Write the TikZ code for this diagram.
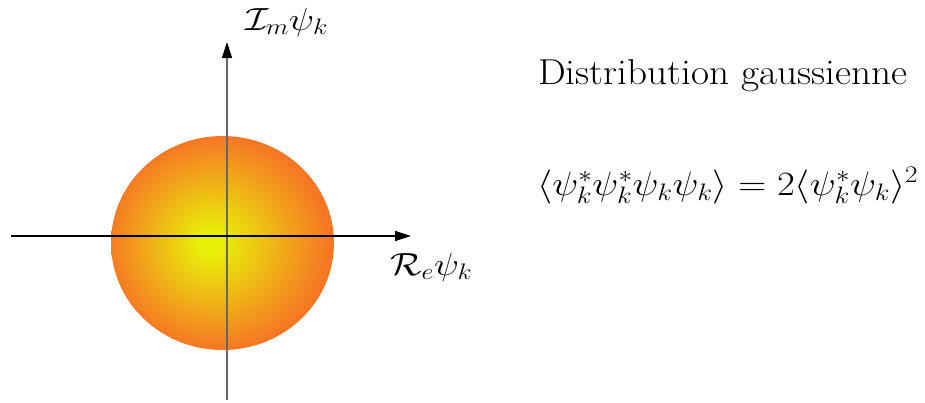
\RequirePackage{fix-cm}
\documentclass[tikz,border=0pt]{standalone}
\usetikzlibrary{arrows.meta}
\definecolor{cin}{RGB}{232,242,8}
\definecolor{cout}{RGB}{246,118,36}
\pgfdeclareradialshading{gball}{\pgfpoint{-3bp}{0bp}}{color(0bp)=(cin); color(2bp)=(cin); color(25bp)=(cout); color(40bp)=(cout)}
\begin{document}
\begin{tikzpicture}[x=1pt,y=-1pt,
  axis/.style={line width=1.2pt},
  tip/.style={-{Triangle[length=16pt,width=10pt,color=black]}},
  lbl/.style={anchor=base west,inner sep=0pt,font=\fontsize{32}{38}\selectfont},
  eqs/.style={anchor=base west,inner sep=0pt,font=\fontsize{34}{40}\selectfont},
  txt/.style={anchor=base west,inner sep=0pt,font=\fontsize{36}{42}\selectfont}]
\useasboundingbox (0,0) rectangle (925,402);
% disk
\path[shading=gball] (222.5,243) ellipse [x radius=111.5, y radius=107];
% axes
\coordinate (vb) at (227,400);
\coordinate (vt) at (227,42);
\coordinate (hl) at (11,236);
\coordinate (hr) at (411,236);
\draw[axis,tip,black!60] (vb) -- (vt);
\draw[axis,tip,black] (hl) -- (hr);
% labels
\node[lbl] (im) at (245,30) {\scalebox{1.18}[1]{$\mathcal{I}_m\psi_k$}};
\node[lbl] (re) at (390,275) {\scalebox{1.16}[1]{$\mathcal{R}_e\psi_k$}};
\node[txt] (dist) at (538,84) {\scalebox{1.09}[1]{Distribution gaussienne}};
\node[eqs] (eq) at (537,195) {\scalebox{1.14}[1]{$\langle\psi_k^*\psi_k^*\psi_k\psi_k\rangle=2\langle\psi_k^*\psi_k\rangle^2$}};
\end{tikzpicture}
\end{document}
